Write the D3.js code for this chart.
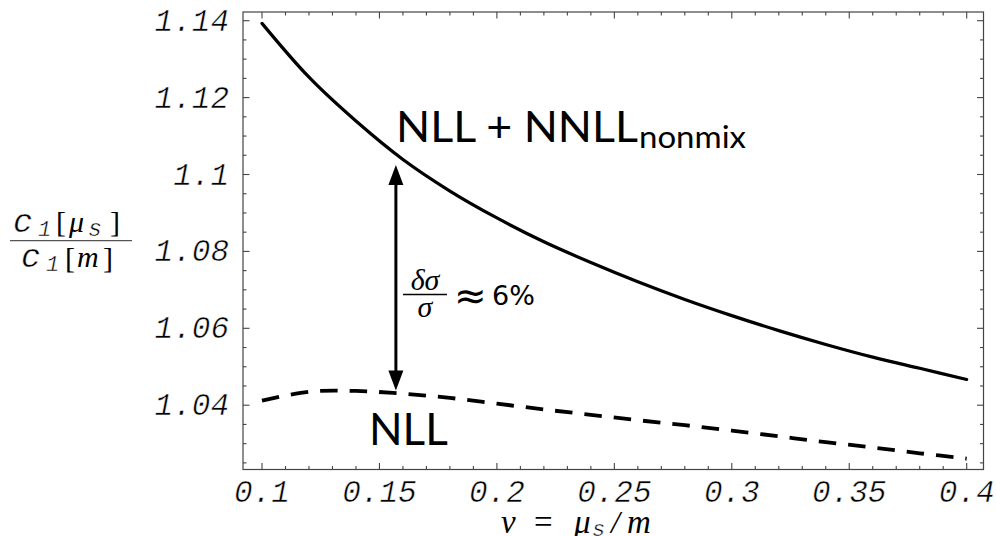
<!DOCTYPE html>
<html><head><meta charset="utf-8">
<script src="https://cdn.jsdelivr.net/npm/d3@7"></script>
<style>
html,body{margin:0;padding:0;background:#fff;}
svg{display:block;}
.tick{font-family:"Liberation Mono",monospace;font-style:italic;font-size:31px;fill:#000;stroke:#fff;stroke-width:0.5px;}
.serif{font-family:"Liberation Serif",serif;}
.mono{font-family:"Liberation Mono",monospace;font-style:italic;stroke:#fff;stroke-width:0.45px;}
</style></head>
<body>
<svg id="chart" width="996" height="536"></svg>
<script>
// ---- data ----
const nu = [0.10,0.12,0.14,0.16,0.18,0.20,0.22,0.24,0.26,0.28,0.30,0.32,0.34,0.36,0.38,0.40];
const nllNnllNonmix = [1.1393,1.1253,1.1139,1.1039,1.0957,1.0887,1.0825,1.0771,1.0721,1.0675,1.0633,1.0594,1.0558,1.0525,1.0496,1.0467];
const nll = [1.0412,1.0435,1.0437,1.0430,1.0419,1.0404,1.0389,1.0375,1.0361,1.0348,1.0334,1.0319,1.0304,1.0290,1.0275,1.0261];
const xTickValues = [0.1,0.15,0.2,0.25,0.3,0.35,0.4];
const xTickLabels = ["0.1","0.15","0.2","0.25","0.3","0.35","0.4"];
const yTickValues = [1.04,1.06,1.08,1.1,1.12,1.14];
const yTickLabels = ["1.04","1.06","1.08","1.1","1.12","1.14"];
const arrowNu = 0.157, arrowTop = 1.1025, arrowBottom = 1.0438;

// ---- layout ----
const svg = d3.select("#chart");
const frame = {left:243, top:12, right:983.5, bottom:469.5};
const x = d3.scaleLinear().domain([0.1,0.4]).range([262,966.7]);
const y = d3.scaleLinear().domain([1.04,1.14]).range([405.2,20.7]);

svg.append("rect").attr("width",996).attr("height",536).attr("fill","#fff");

// frame
svg.append("rect")
  .attr("x",frame.left).attr("y",frame.top)
  .attr("width",frame.right-frame.left).attr("height",frame.bottom-frame.top)
  .attr("fill","none").attr("stroke","#444").attr("stroke-width",1.2);

// ticks
const inX = v => x(v) >= frame.left && x(v) <= frame.right;
const inY = v => y(v) >= frame.top && y(v) <= frame.bottom;
const xMinor = d3.range(0,60).map(i => +(0.05 + i*0.01).toFixed(3)).filter(inX);
const yMinor = d3.range(0,40).map(i => +(1.0 + i*0.005).toFixed(4)).filter(inY);
const isMajorX = v => xTickValues.some(t => Math.abs(t-v)<1e-9);
const isMajorY = v => yTickValues.some(t => Math.abs(t-v)<1e-9);
const tg = svg.append("g").attr("stroke","#444").attr("stroke-width",1.1);
xMinor.forEach(v => {
  const L = isMajorX(v) ? 6.5 : 3.5;
  tg.append("line").attr("x1",x(v)).attr("x2",x(v)).attr("y1",frame.bottom).attr("y2",frame.bottom-L);
  tg.append("line").attr("x1",x(v)).attr("x2",x(v)).attr("y1",frame.top).attr("y2",frame.top+L);
});
yMinor.forEach(v => {
  const L = isMajorY(v) ? 6.5 : 3.5;
  tg.append("line").attr("y1",y(v)).attr("y2",y(v)).attr("x1",frame.left).attr("x2",frame.left+L);
  tg.append("line").attr("y1",y(v)).attr("y2",y(v)).attr("x1",frame.right).attr("x2",frame.right-L);
});

// tick labels
svg.append("g").selectAll("text").data(xTickValues).join("text")
  .attr("class","tick").attr("x",d=>x(d)).attr("y",502)
  .attr("text-anchor","middle").text((d,i)=>xTickLabels[i]);
svg.append("g").selectAll("text").data(yTickValues).join("text")
  .attr("class","tick").attr("x",229).attr("y",d=>y(d)+10)
  .attr("text-anchor","end").text((d,i)=>yTickLabels[i]);

// curves
const line = d3.line().x((d,i)=>x(nu[i])).y(d=>y(d)).curve(d3.curveCatmullRom.alpha(0.5));
svg.append("path").attr("d",line(nllNnllNonmix)).attr("fill","none")
  .attr("stroke","#000").attr("stroke-width",3.2).attr("stroke-linecap","round");
svg.append("path").attr("d",line(nll)).attr("fill","none")
  .attr("stroke","#000").attr("stroke-width",3.8).attr("stroke-dasharray","17.5,12");

// arrow
const ax = x(arrowNu), ay1 = y(arrowTop), ay2 = y(arrowBottom);
svg.append("line").attr("x1",ax).attr("x2",ax).attr("y1",ay1+15).attr("y2",ay2-15)
  .attr("stroke","#000").attr("stroke-width",3);
svg.append("path").attr("d",`M${ax},${ay1} L${ax-7.5},${ay1+20} L${ax+7.5},${ay1+20} Z`).attr("fill","#000");
svg.append("path").attr("d",`M${ax},${ay2} L${ax-7.5},${ay2-20} L${ax+7.5},${ay2-20} Z`).attr("fill","#000");

// curve labels
const lab1 = svg.append("text").attr("x",396).attr("y",142)
  .style("font-family","Lato, sans-serif").style("font-size","42px").attr("fill","#000");
lab1.append("tspan").text("NLL + NNLL").attr("textLength",242).attr("lengthAdjust","spacingAndGlyphs");
lab1.append("tspan").attr("x",639).attr("dy",6).style("font-size","30px")
  .attr("textLength",107).attr("lengthAdjust","spacingAndGlyphs").text("nonmix");
svg.append("text").attr("x",369).attr("y",445)
  .style("font-family","Lato, sans-serif").style("font-size","44px").attr("fill","#000").text("NLL");

// delta sigma annotation
const fr = svg.append("g");
fr.append("text").attr("class","serif").attr("x",425).attr("y",290).attr("text-anchor","middle")
  .style("font-style","italic").style("font-size","30px").text("δσ");
fr.append("line").attr("x1",403).attr("x2",447).attr("y1",294.5).attr("y2",294.5).attr("stroke","#000").attr("stroke-width",1.4);
fr.append("text").attr("class","serif").attr("x",425).attr("y",317).attr("text-anchor","middle")
  .style("font-style","italic").style("font-size","30px").text("σ");
fr.append("text").attr("x",454).attr("y",309)
  .style("font-family","DejaVu Sans, sans-serif").style("font-size","39px").text("≈");
fr.append("text").attr("x",492).attr("y",305)
  .style("font-family","DejaVu Sans, sans-serif").style("font-size","27px").text("6%");

// y axis label (fraction)
const yl = svg.append("g").attr("fill","#000");
const part = (g,txt,cls,xp,yp,fs,extra) => {
  const t = g.append("text").attr("class",cls).attr("x",xp).attr("y",yp).style("font-size",fs+"px").text(txt);
  if (extra) t.style("font-style",extra);
  return t;
};
part(yl,"c","mono",13,232,33);
part(yl,"1","mono",38,236,22);
part(yl,"[","serif",56,232,30);
part(yl,"μ","serif",69,232,30,"italic");
part(yl,"s","mono",88,236,23);
part(yl,"]","serif",110,232,30);
yl.append("line").attr("x1",10).attr("x2",132).attr("y1",240.7).attr("y2",240.7).attr("stroke","#555").attr("stroke-width",1.2);
part(yl,"c","mono",21,267,33);
part(yl,"1","mono",46,271,22);
part(yl,"[","serif",65,268,30);
part(yl,"m","serif",77,267,30,"italic");
part(yl,"]","serif",103,268,30);

// x axis label
const xl = svg.append("g").attr("fill","#000");
part(xl,"ν","serif",501,533,33,"italic");
part(xl,"=","serif",534,533,33);
part(xl,"μ","serif",574,533,33,"italic");
part(xl,"s","mono",592,536,22);
part(xl,"/","serif",611,533,32,"italic");
part(xl,"m","serif",627,533,33,"italic");
</script>
</body></html>
